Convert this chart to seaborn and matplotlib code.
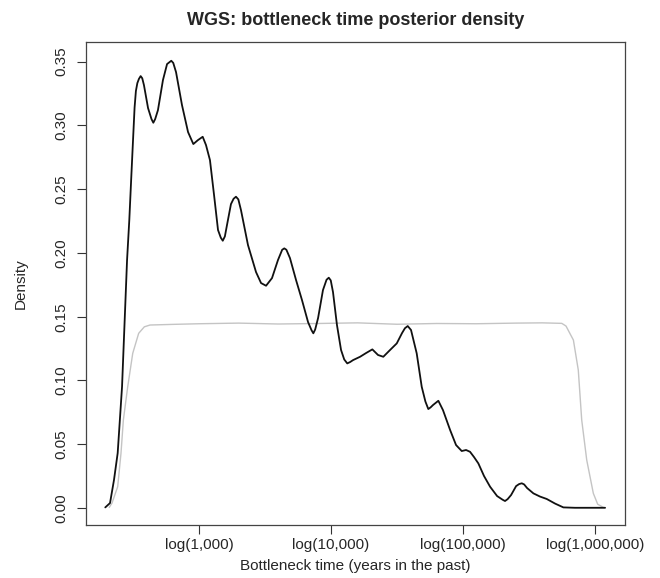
import numpy as np
import pandas as pd
import seaborn as sns
import matplotlib
matplotlib.use("Agg")
import matplotlib.pyplot as plt

# posterior density of bottleneck time, x in log10(years in the past)
post_x = [2.290, 2.326, 2.356, 2.384, 2.417, 2.437, 2.455, 2.472, 2.486, 2.500,
          2.512, 2.522, 2.533, 2.545, 2.558, 2.570, 2.583, 2.614, 2.640, 2.654,
          2.668, 2.689, 2.727, 2.758, 2.775, 2.790, 2.805, 2.826, 2.871, 2.917,
          2.957, 2.992, 3.028, 3.053, 3.083, 3.114, 3.144, 3.165, 3.180, 3.196,
          3.212, 3.242, 3.262, 3.280, 3.298, 3.318, 3.371, 3.432, 3.470, 3.508,
          3.553, 3.598, 3.630, 3.646, 3.662, 3.689, 3.735, 3.780, 3.826, 3.852,
          3.866, 3.880, 3.902, 3.939, 3.966, 3.983, 3.998, 4.015, 4.045, 4.076,
          4.100, 4.123, 4.145, 4.167, 4.220, 4.265, 4.313, 4.356, 4.396, 4.447,
          4.498, 4.538, 4.560, 4.581, 4.606, 4.649, 4.687, 4.715, 4.737, 4.755,
          4.773, 4.813, 4.848, 4.902, 4.947, 4.990, 5.023, 5.053, 5.083, 5.116,
          5.159, 5.205, 5.258, 5.300, 5.318, 5.338, 5.364, 5.402, 5.425, 5.445,
          5.463, 5.485, 5.533, 5.583, 5.634, 5.697, 5.760, 5.848, 6.076]
post_y = [0.0005, 0.0039, 0.0220, 0.0431, 0.0951, 0.1474, 0.1944, 0.2258, 0.2572, 0.2880,
          0.3140, 0.3270, 0.3332, 0.3365, 0.3387, 0.3370, 0.3316, 0.3136, 0.3050, 0.3021,
          0.3050, 0.3120, 0.3356, 0.3481, 0.3495, 0.3507, 0.3490, 0.3418, 0.3160, 0.2948,
          0.2854, 0.2885, 0.2911, 0.2846, 0.2728, 0.2454, 0.2180, 0.2120, 0.2096, 0.2130,
          0.2219, 0.2383, 0.2425, 0.2441, 0.2420, 0.2336, 0.2062, 0.1850, 0.1764, 0.1743,
          0.1803, 0.1944, 0.2025, 0.2036, 0.2025, 0.1960, 0.1788, 0.1631, 0.1458, 0.1395,
          0.1370, 0.1400, 0.1490, 0.1709, 0.1790, 0.1806, 0.1785, 0.1693, 0.1435, 0.1239,
          0.1165, 0.1134, 0.1145, 0.1160, 0.1186, 0.1215, 0.1244, 0.1200, 0.1186, 0.1239,
          0.1291, 0.1372, 0.1410, 0.1427, 0.1396, 0.1213, 0.0951, 0.0835, 0.0776, 0.0790,
          0.0808, 0.0841, 0.0768, 0.0612, 0.0494, 0.0447, 0.0455, 0.0441, 0.0400, 0.0350,
          0.0251, 0.0167, 0.0094, 0.0065, 0.0055, 0.0070, 0.0102, 0.0172, 0.0188, 0.0194,
          0.0185, 0.0157, 0.0115, 0.0090, 0.0071, 0.0035, 0.0005, 0.0002, 0.0002]

# prior density (grey)
prior_x = [2.320, 2.341, 2.384, 2.409, 2.427, 2.460, 2.498, 2.543, 2.586, 2.629,
           2.800, 3.000, 3.300, 3.600, 3.900, 4.200, 4.500, 4.800, 5.100, 5.400,
           5.600, 5.748, 5.780, 5.836, 5.873, 5.899, 5.937, 5.987, 6.020, 6.063]
prior_y = [0.0005, 0.0039, 0.0167, 0.0429, 0.0690, 0.0951, 0.1213, 0.1370, 0.1421, 0.1435,
           0.1440, 0.1445, 0.1450, 0.1443, 0.1447, 0.1452, 0.1441, 0.1447, 0.1445, 0.1450,
           0.1452, 0.1448, 0.1427, 0.1317, 0.1082, 0.0690, 0.0376, 0.0115, 0.0030, 0.0005]

xtick_pos = [3, 4, 5, 6]
xtick_labels = ["log(1,000)", "log(10,000)", "log(100,000)", "log(1,000,000)"]
ytick_pos = [0.00, 0.05, 0.10, 0.15, 0.20, 0.25, 0.30, 0.35]

sns.set_style("white")
plt.rcParams['font.family'] = ['Liberation Sans', 'DejaVu Sans']

fig = plt.figure(figsize=(6.6, 5.78), dpi=100)
ax = fig.add_axes([0.1303, 0.0917, 0.8167, 0.8356])

post = pd.DataFrame({"x": post_x, "y": post_y})
prior = pd.DataFrame({"x": prior_x, "y": prior_y})
sns.lineplot(data=prior, x="x", y="y", ax=ax, color="#c4c4c4", linewidth=1.0, sort=False)
sns.lineplot(data=post, x="x", y="y", ax=ax, color="#111111", linewidth=1.3, sort=False)

ax.set_xlim(2.144, 6.227)
ax.set_ylim(-0.0133, 0.3654)

ax.set_xticks(xtick_pos)
ax.set_xticklabels(xtick_labels, fontsize=11)
ax.set_yticks(ytick_pos)
ax.set_yticklabels(["%.2f" % v for v in ytick_pos], fontsize=11, rotation=90, va="center")
ax.tick_params(axis="x", direction="out", length=6.5, width=0.8, color="#333333", pad=3, bottom=True)
ax.tick_params(axis="y", direction="out", length=6.5, width=0.8, color="#333333", pad=6, left=True)

for s in ax.spines.values():
    s.set_color("#444444")
    s.set_linewidth(0.9)
    s.set_visible(True)

ax.set_xlabel("Bottleneck time (years in the past)", fontsize=11, labelpad=5)
ax.set_ylabel("Density", fontsize=11, labelpad=19)
ax.set_title("WGS: bottleneck time posterior density", fontsize=13, fontweight="bold", pad=12)

fig.savefig("out.png", dpi=100, facecolor="white")
